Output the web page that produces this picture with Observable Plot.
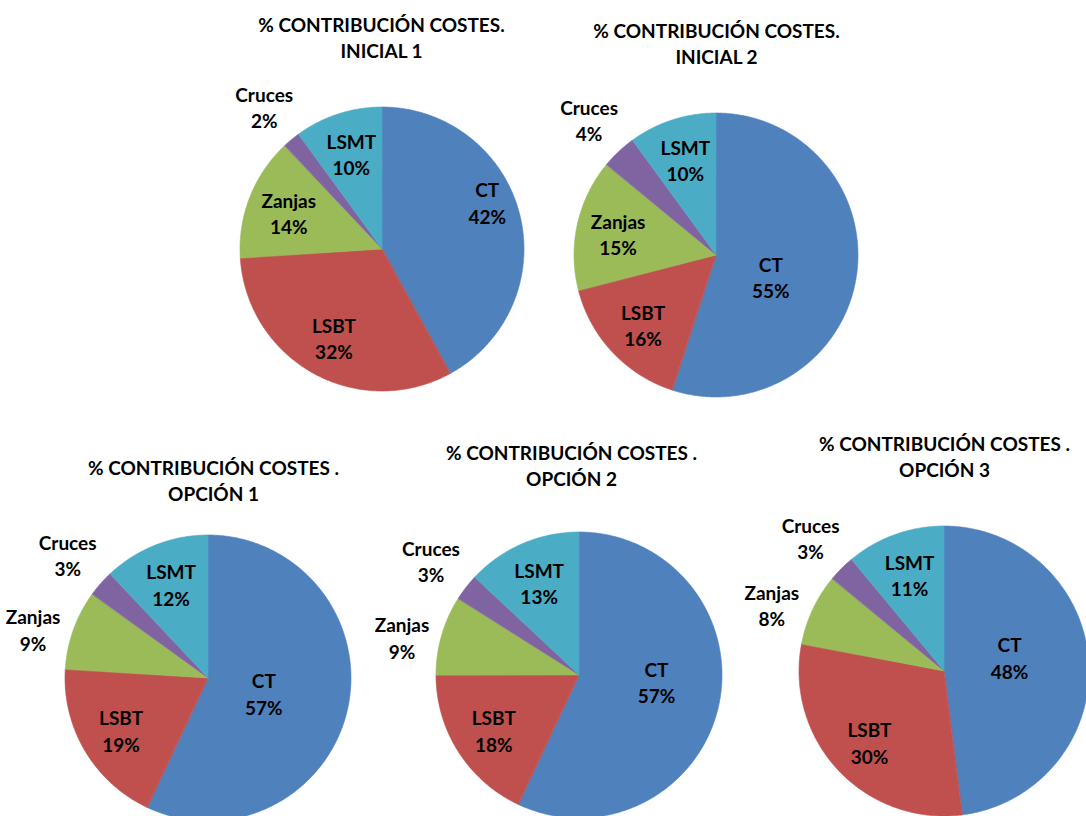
<!DOCTYPE html>
<html>
<head>
<meta charset="utf-8">
<script src="https://cdn.jsdelivr.net/npm/d3@7"></script>
<script src="https://cdn.jsdelivr.net/npm/@observablehq/plot@0.6"></script>
<style>
  html, body { margin: 0; padding: 0; background: #fff; overflow: hidden; }
  #chart svg { display: block; }
</style>
</head>
<body>
<div id="chart"></div>
<script>
// ---------- DATA ----------
const categories = ["CT", "LSBT", "Zanjas", "Cruces", "LSMT"];
const chartNames = ["INICIAL 1", "INICIAL 2", "OPCIÓN 1", "OPCIÓN 2", "OPCIÓN 3"];
const titleFirstLines = [
  "% CONTRIBUCIÓN COSTES.",
  "% CONTRIBUCIÓN COSTES.",
  "% CONTRIBUCIÓN COSTES .",
  "% CONTRIBUCIÓN COSTES .",
  "% CONTRIBUCIÓN COSTES ."
];
const inicial1 = [42, 32, 14, 2, 10];
const inicial2 = [55, 16, 15, 4, 10];
const opcion1  = [57, 19, 9, 3, 12];
const opcion2  = [57, 18, 9, 3, 13];
const opcion3  = [48, 30, 8, 3, 11];
const seriesValues = [inicial1, inicial2, opcion1, opcion2, opcion3];

// ---------- STYLE / LAYOUT ----------
const colors = ["#4F81BD", "#C0504D", "#9BBB59", "#8064A2", "#4BACC6"];
const W = 1086, H = 816;
const layout = [
  {cx: 382, cy: 249, r: 142, tx: 381, ty: 36,  ct: [0.81, -10]},
  {cx: 716, cy: 255, r: 142, tx: 716, ty: 42,  ct: [0.41, 12]},
  {cx: 208, cy: 678, r: 143, tx: 213, ty: 479, ct: [0.40, 2]},
  {cx: 579, cy: 675, r: 143, tx: 571, ty: 464, ct: [0.54, -8]},
  {cx: 944, cy: 671, r: 145, tx: 944, ty: 455, ct: [0.46, -9]}
];
const insideK = 0.71;
const outsidePad = {Zanjas: 0, Cruces: 9};
const outsideTurn = {Zanjas: -4, Cruces: 0};
const labelHalfW = 30, labelHalfH = 20;

// ---------- BUILD DERIVED GEOMETRY FROM DATA ----------
const pie = d3.pie().sort(null).value(d => d);
const slicePts = [];
const labels = [];
const titles = [];
seriesValues.forEach((vals, i) => {
  const L = layout[i];
  const arcs = pie(vals);
  arcs.forEach((a, j) => {
    const cat = categories[j];
    const n = Math.max(2, Math.ceil((a.endAngle - a.startAngle) / (Math.PI / 360)));
    for (let k = 0; k <= n; k++) {
      const t = a.startAngle + (a.endAngle - a.startAngle) * k / n;
      slicePts.push({
        key: i + "-" + j, cat,
        ax: L.cx + L.r * Math.sin(t), ay: L.cy - L.r * Math.cos(t),
        cx: L.cx, cy: L.cy
      });
    }
    let mid = (a.startAngle + a.endAngle) / 2;
    let dist;
    if (j === 0) {
      mid += L.ct[1] * Math.PI / 180;
      dist = L.ct[0] * L.r;
    } else if (vals[j] < 10) {
      mid += (outsideTurn[cat] || 0) * Math.PI / 180;
      dist = L.r + (outsidePad[cat] || 5) + labelHalfW * Math.abs(Math.sin(mid)) + labelHalfH * Math.abs(Math.cos(mid));
    } else {
      dist = insideK * L.r;
    }
    labels.push({
      x: L.cx + dist * Math.sin(mid),
      y: L.cy - dist * Math.cos(mid),
      text: cat + "\n" + vals[j] + "%"
    });
  });
  titles.push({x: L.tx, y: L.ty, text: titleFirstLines[i] + "\n" + chartNames[i]});
});

const plot = Plot.plot({
  width: W,
  height: H,
  margin: 0,
  x: {type: "linear", domain: [0, W], range: [0, W], axis: null},
  y: {type: "linear", domain: [0, H], range: [0, H], axis: null},
  color: {domain: categories, range: colors},
  style: {fontFamily: "Lato, 'Liberation Sans', sans-serif", background: "#fff"},
  marks: [
    Plot.area(slicePts, {
      x1: "ax", y1: "ay", x2: "cx", y2: "cy",
      z: "key", fill: "cat", stroke: "cat", strokeWidth: 0.6, curve: "linear"
    }),
    Plot.text(labels, {
      x: "x", y: "y", text: "text",
      fontSize: 19, fontWeight: "bold", fill: "#000", lineHeight: 1.39
    }),
    Plot.text(titles, {
      x: "x", y: "y", text: "text",
      fontSize: 19, fontWeight: "bold", fill: "#000", lineHeight: 1.37
    })
  ]
});
document.getElementById("chart").appendChild(plot);
</script>
</body>
</html>
